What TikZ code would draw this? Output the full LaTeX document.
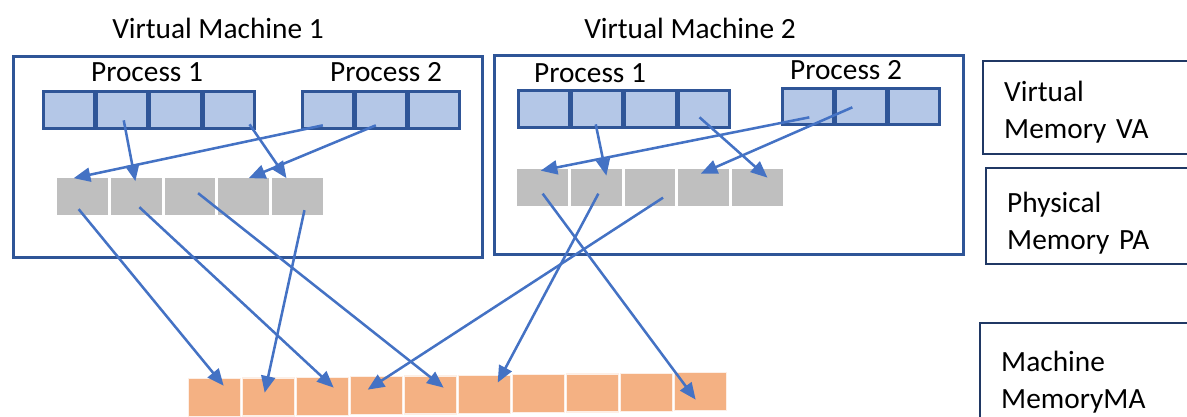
\documentclass[tikz,border=0pt]{standalone}
\usepackage{fontspec}
\setmainfont{Carlito}
\usepackage{tikz}
\usetikzlibrary{arrows.meta,calc}
\definecolor{vaBlue}{HTML}{B4C7E7}
\definecolor{paGray}{HTML}{BFBFBF}
\definecolor{maOrange}{HTML}{F4B183}
\definecolor{frameBlue}{HTML}{2F5597}
\definecolor{legendBlue}{HTML}{203864}
\definecolor{mapBlue}{HTML}{4472C4}

\begin{document}
\begin{tikzpicture}[x=0.75pt,y=-0.75pt,font=\fontsize{22}{26}\selectfont,
  vpage/.style={rectangle,draw=frameBlue,line width=2pt,fill=vaBlue,anchor=north west,
                minimum width=38.25pt,minimum height=27.75pt,inner sep=0pt},
  ppage/.style={rectangle,draw=white,line width=1pt,fill=paGray,anchor=north west,
                minimum width=39pt,minimum height=28.5pt,inner sep=0pt},
  mpage/.style={rectangle,draw=white!80!maOrange,line width=1pt,fill=maOrange,anchor=north west,
                minimum width=39pt,minimum height=28.5pt,inner sep=0pt},
  vmframe/.style={rectangle,draw=frameBlue,line width=1.9pt,anchor=north west,inner sep=0pt},
  legend/.style={rectangle,draw=legendBlue,line width=1.8pt,anchor=north west,align=left,
                 inner xsep=15.75pt,inner ysep=3pt,text width=139.5pt,
                 font=\fontsize{22}{27.75}\selectfont},
  map/.style={-{Triangle[length=12.5pt,width=10.5pt]},mapBlue,line width=1.9pt}]
  \useasboundingbox (0,0) rectangle (1187,417);

  % virtual machines
  \node[vmframe,minimum width=351.75pt,minimum height=150.75pt] (vm1) at (12,55) {};
  \node[vmframe,minimum width=351.75pt,minimum height=149.25pt] (vm2) at (493,54) {};
  \node (vm1title) at (218,28) {Virtual Machine 1};
  \node (vm2title) at (690,28) {Virtual Machine 2};
  \node (vm1lbla) at (147,72) {Process 1};
  \node (vm1lblb) at (386,72) {Process 2};
  \node (vm2lbla) at (590,73) {Process 1};
  \node (vm2lblb) at (846,70) {Process 2};

  % pages
  \foreach \i in {1,...,4}
    \node[vpage] (vm1pa\i) at ({42+53.4*(\i-1)},90) {};
  \foreach \i in {1,...,3}
    \node[vpage] (vm1pb\i) at ({301+53*(\i-1)},90) {};
  \foreach \i in {1,...,5}
    \node[ppage] (vm1ph\i) at ({56+53.7*(\i-1)},177) {};
  \foreach \i in {1,...,4}
    \node[vpage] (vm2pa\i) at ({517+53.4*(\i-1)},89) {};
  \foreach \i in {1,...,3}
    \node[vpage,minimum height=27pt] (vm2pb\i) at ({781+53*(\i-1)},87) {};
  \foreach \i in {1,...,5}
    \node[ppage] (vm2ph\i) at ({516+53.7*(\i-1)},168) {};
  \foreach \i in {1,...,10}
    \node[mpage] (ma\i) at ({188+54*(\i-1)},{378-0.67*(\i-1)}) {};

  % legend
  \node[legend,minimum height=69.75pt] (lgva) at (982,60) {\rule{0pt}{21.5pt}Virtual\\Memory VA};
  \node[legend,minimum height=72pt] (lgpa) at (985,167) {\rule{0pt}{26pt}Physical\\Memory PA};
  \node[legend,minimum height=88.5pt] (lgma) at (979,322) {Machine\\MemoryMA};

  % VA -> PA
  \draw[map] ($(vm1pa2.center)+(1.5,10.5)$) -- ($(vm1ph2.center)+(-1,-15.5)$);
  \draw[map] ($(vm1pa4.center)+(20.5,14.5)$) -- ($(vm1ph5.center)+(-11,-18.5)$);
  \draw[map] ($(vm1pb1.center)+(-5,15.5)$) -- ($(vm1ph1.center)+(-9,-18.5)$);
  \draw[map] ($(vm1pb2.center)+(-5,15.5)$) -- ($(vm1ph4.center)+(5,-18.5)$);
  \draw[map] ($(vm2pa2.center)+(-1.5,15.5)$) -- ($(vm2ph2.center)+(10,-12)$);
  \draw[map] ($(vm2pa4.center)+(-4.5,8.5)$) -- ($(vm2ph5.center)+(10,-10)$);
  \draw[map] ($(vm2pb1.center)+(1.5,11)$) -- ($(vm2ph1.center)+(-2,-17)$);
  \draw[map] ($(vm2pb2.center)+(-8.5,1)$) -- ($(vm2ph4.center)+(-3,-14)$);

  % PA -> MA
  \draw[map] ($(vm1ph1.center)+(-4,12.5)$) -- ($(ma1.center)+(9,-12)$);
  \draw[map] ($(vm1ph2.center)+(3,10.5)$) -- ($(ma3.center)+(11,-8.7)$);
  \draw[map] ($(vm1ph5.center)+(7,13.5)$) -- ($(ma2.center)+(-4,-4.3)$);
  \draw[map] ($(vm1ph3.center)+(8,-3.5)$) -- ($(ma5.center)+(13,-7.3)$);
  \draw[map] ($(vm2ph3.center)+(13,10)$) -- ($(ma4.center)+(-9,-6)$);
  \draw[map] ($(vm2ph1.center)+(0,6)$) -- ($(ma10.center)+(-5,8)$);
  \draw[map] ($(vm2ph2.center)+(2,6)$) -- ($(ma6.center)+(13,-11.7)$);
\end{tikzpicture}
\end{document}
